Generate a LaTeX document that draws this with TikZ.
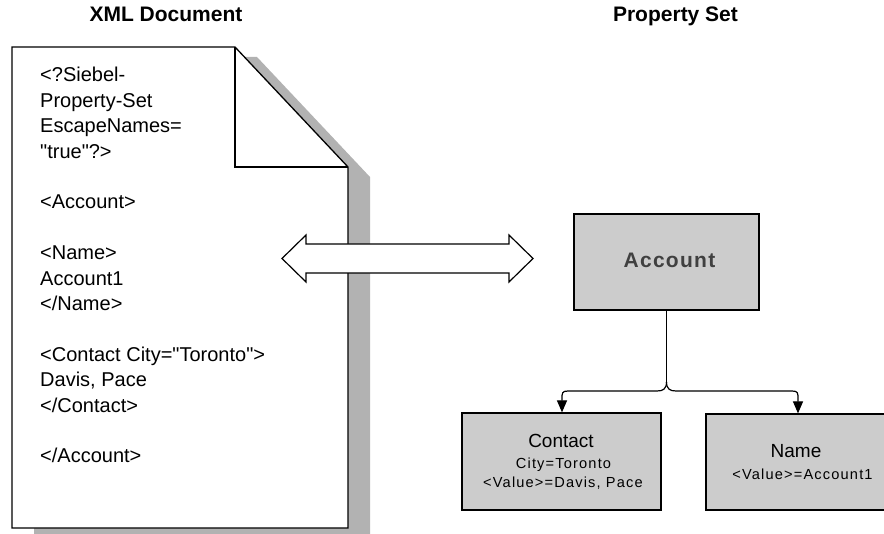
\documentclass[tikz,border=0pt]{standalone}
\usepackage{fontspec}
\setmainfont{Liberation Sans}
\newfontfamily\docfont{Liberation Sans}
\newfontfamily\spacedfont[LetterSpace=8]{Liberation Sans}
\newfontfamily\accfont[LetterSpace=6]{Liberation Sans}
\usetikzlibrary{arrows.meta}
\definecolor{boxgray}{RGB}{204,204,204}
\definecolor{shadowgray}{RGB}{178,178,178}
\definecolor{acctext}{RGB}{64,64,64}
\begin{document}
\begin{tikzpicture}[x=1pt,y=-1pt,
  doctext/.style={anchor=base west, inner sep=0pt, font=\docfont\fontsize{20}{24}\selectfont},
  title/.style={anchor=base, inner sep=0pt, font=\fontsize{21}{25}\selectfont\bfseries},
  gbox/.style={draw=black, line width=1.2pt, fill=boxgray, inner sep=0pt},
  bigtext/.style={anchor=base, inner sep=0pt, font=\fontsize{19}{23}\selectfont},
  smalltext/.style={anchor=base, inner sep=0pt, font=\spacedfont\fontsize{14.6}{17}\selectfont},
  acclabel/.style={anchor=base, inner sep=0pt, text=acctext, font=\accfont\bfseries\fontsize{21}{25}\selectfont},
  outline/.style={draw=black, line width=1.3pt},
  conn/.style={line width=1.2pt},
  downarrow/.style={-{Triangle[length=12pt,width=10pt]}}
]
\useasboundingbox (0,0) rectangle (884,534);

% titles
\node[title] (t1) at (166,22) {XML Document};
\node[title] (t2) at (675.5,22) {Property Set};

% document with shadow
\fill[shadowgray] (34,57) -- (257,57) -- (370,177) -- (370,540) -- (34,540) -- cycle;
\draw[outline, fill=white] (12,47) -- (235,47) -- (348,167) -- (348,528) -- (12,528) -- cycle;
\draw[outline] (235,47) -- (235,167) -- (348,167);

% document text
\node[doctext] (d0) at (40,82) {<?Siebel-};
\node[doctext] (d1) at (40,107.4) {Property-Set};
\node[doctext] (d2) at (40,132.8) {EscapeNames=};
\node[doctext] (d3) at (40,158.2) {"true"?>};
\node[doctext] (d5) at (40,209) {<Account>};
\node[doctext] (d7) at (40,259.8) {<Name>};
\node[doctext] (d8) at (40,285.2) {Account1};
\node[doctext] (d9) at (40,310.6) {</Name>};
\node[doctext] (d11) at (40,361.4) {<Contact City="Toronto">};
\node[doctext] (d12) at (40,386.8) {Davis, Pace};
\node[doctext] (d13) at (40,412.2) {</Contact>};
\node[doctext] (d15) at (40,463) {</Account>};

% double arrow
\draw[outline, line width=1.2pt, fill=white] (282,258.5) -- (306,235) -- (306,244) -- (509,244) -- (509,235) -- (533,258.5) -- (509,282) -- (509,273) -- (306,273) -- (306,282) -- cycle;

% property set boxes
\node[gbox, minimum width=185pt, minimum height=96pt] (acc) at (666.5,262) {};
\node[acclabel] (acct) at (669.5,268) {Account};

\node[gbox, minimum width=199pt, minimum height=97pt] (cont) at (561.5,461.5) {};
\node[bigtext] (cont1) at (561,448) {Contact};
\node[smalltext] (cont2) at (563.5,469) {City=Toronto};
\node[smalltext] (cont3) at (563,488) {<Value>=Davis, Pace};

\node[gbox, minimum width=186pt, minimum height=96pt] (name) at (799,462) {};
\node[bigtext] (name1) at (796,458) {Name};
\node[smalltext] (name2) at (802.5,479) {<Value>=Account1};

% tree connectors
\coordinate (j) at (666.5,382);
\draw[conn] (acc.south) -- (j);
\draw[conn, downarrow] (j) .. controls (666.5,389) and (663,391) .. (657,391) -- (568,391) .. controls (562,391) and (562,393) .. (562,399) -- (562,0 |- cont.north);
\draw[conn, downarrow] (j) .. controls (666.5,389) and (670,391) .. (676,391) -- (792,391) .. controls (798,391) and (798,393) .. (798,399) -- (798,0 |- name.north);
\end{tikzpicture}
\end{document}
